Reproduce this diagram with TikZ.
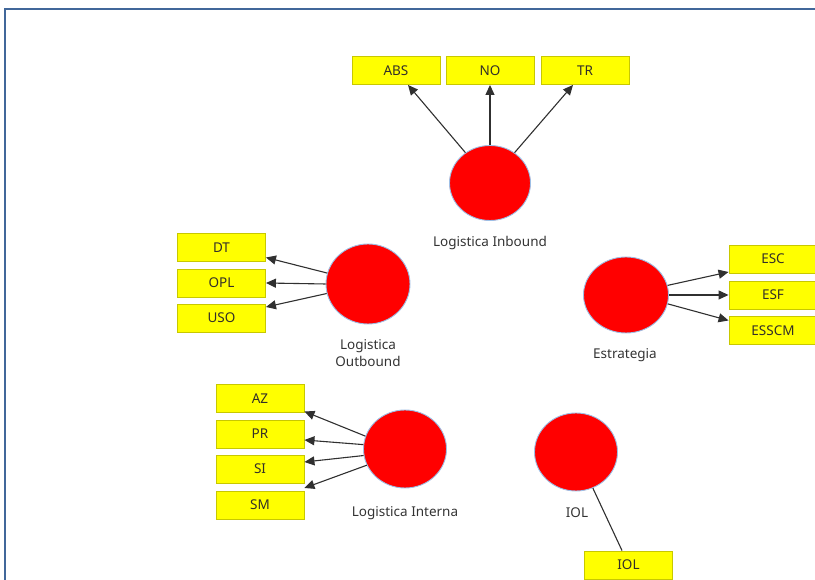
\documentclass[tikz,border=0pt]{standalone}
\usepackage{fontspec}
\setmainfont{Noto Sans}
\usetikzlibrary{arrows.meta,shapes.geometric}
\definecolor{framec}{HTML}{41679A}
\definecolor{boxfill}{HTML}{FFFF00}
\definecolor{boxline}{HTML}{C8C800}
\definecolor{lvred}{HTML}{FF0000}
\definecolor{lvedge}{HTML}{9DBFE6}
\definecolor{linkc}{HTML}{303030}
\tikzset{
  ind/.style={draw=boxline, fill=boxfill, line width=0.9pt, minimum width=88pt,
    minimum height=28pt, inner sep=0pt, font=\fontsize{13.5}{15}\selectfont, text=black!85!olive},
  lv/.style={ellipse, draw=lvedge, fill=lvred, line width=0.9pt, inner sep=0pt},
  lvlabel/.style={font=\fontsize{13.5}{17}\selectfont, text=black!80, align=center},
  link/.style={draw=linkc, line width=1.1pt, -{Triangle[length=10pt,width=9pt]}},
  plainlink/.style={draw=linkc, line width=1.1pt}
}
\begin{document}
\begin{tikzpicture}[x=1pt,y=1pt]
\useasboundingbox (0,0) rectangle (815,580);
% window frame
\draw[framec, line width=2pt] (5,0) -- (5,571) -- (815,571);

% Logistica Inbound
\node[lv, minimum width=81pt, minimum height=75pt] (ib) at (490,397) {};
\node[lvlabel] (ibl) at (490,337) {Logistica Inbound};
\node[ind] (abs) at (396,509.5) {ABS};
\node[ind] (no) at (490,509.5) {NO};
\node[ind] (tr) at (585,509.5) {TR};
\draw[link] (ib.129) -- ([xshift=12pt]abs.south);
\draw[link] (ib.north) -- (no.south);
\draw[link] (ib.51) -- ([xshift=-12pt]tr.south);

% Logistica Outbound
\node[lv, minimum width=84pt, minimum height=80pt] (ob) at (368,296) {};
\node[lvlabel] (obl) at (368,226.5) {Logistica\\Outbound};
\node[ind] (dt) at (221.5,332.5) {DT};
\node[ind] (opl) at (221.5,297) {OPL};
\node[ind] (uso) at (221.5,262) {USO};
\draw[link] (ob.165) -- ([yshift=-10pt]dt.east);
\draw[link] (ob.180) -- (opl.east);
\draw[link] (ob.193) -- ([yshift=11pt]uso.east);

% Estrategia
\node[lv, minimum width=85pt, minimum height=76pt] (es) at (626,285) {};
\node[lvlabel] (esl) at (625,225) {Estrategia};
\node[ind] (esc) at (773,321) {ESC};
\node[ind] (esf) at (773,285) {ESF};
\node[ind] (esscm) at (773,249.5) {ESSCM};
\draw[link] (es.13) -- ([yshift=-13pt]esc.west);
\draw[link] (es.0) -- (esf.west);
\draw[link] (es.-12) -- ([yshift=10pt]esscm.west);

% Logistica Interna
\node[lv, minimum width=83pt, minimum height=78pt] (li) at (405,131) {};
\node[lvlabel] (lil) at (405,67) {Logistica Interna};
\node[ind] (az) at (260,181.5) {AZ};
\node[ind] (pr) at (260,146) {PR};
\node[ind] (si) at (260,111) {SI};
\node[ind] (sm) at (260,75) {SM};
\draw[link] (li.162) -- ([yshift=-13pt]az.east);
\draw[link] (li.174) -- ([yshift=-6pt]pr.east);
\draw[link] (li.189) -- ([yshift=7pt]si.east);
\draw[link] (li.203) -- ([yshift=17pt]sm.east);

% IOL
\node[lv, minimum width=83pt, minimum height=78pt] (iol) at (576,128) {};
\node[lvlabel] (ioll) at (577,67) {IOL};
\node[ind] (iolb) at (628.5,15) {IOL};
\draw[plainlink] (iol.295) -- ([xshift=-6.5pt]iolb.north);
\end{tikzpicture}
\end{document}
